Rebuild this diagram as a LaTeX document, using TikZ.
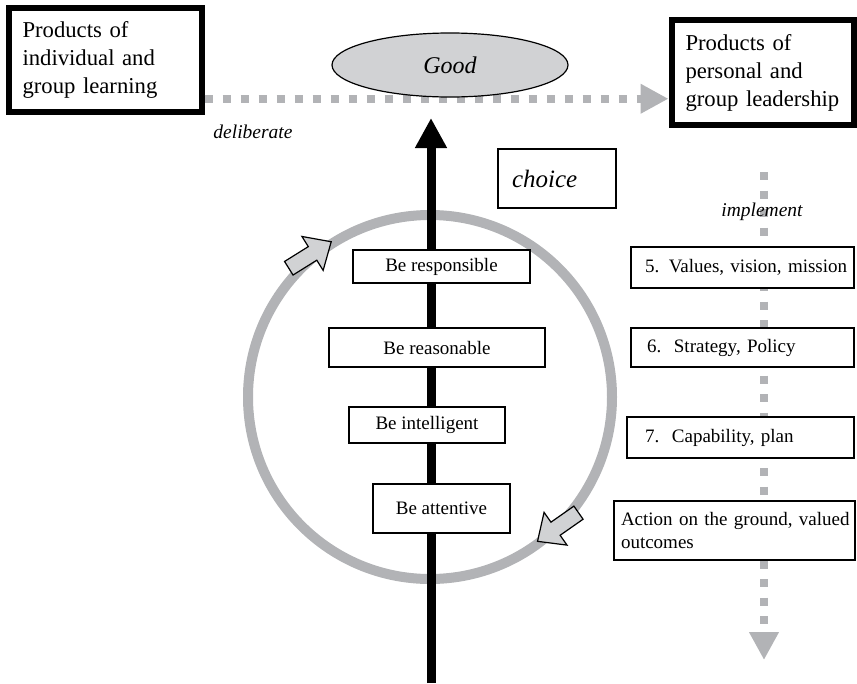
\documentclass[tikz,border=0pt]{standalone}
\usepackage{fontspec}
\setmainfont{Liberation Serif}
\usetikzlibrary{shapes.geometric,arrows.meta,calc}
\definecolor{ringgray}{RGB}{178,179,182}
\definecolor{lightfill}{RGB}{209,210,212}
\newcommand{\bigtext}{\fontsize{22.7}{28}\selectfont}
\newcommand{\boxtext}{\fontsize{19}{23.5}\selectfont}
\newcommand{\smalltext}{\fontsize{19.5}{23}\selectfont\itshape}
\tikzset{
  bigbox/.style={draw, line width=6pt, align=left, inner ysep=0pt},
  bebox/.style={draw, line width=1.2pt, fill=white, inner sep=0pt, font=\boxtext},
  rbox/.style={draw, line width=1.2pt, fill=white, inner ysep=0pt, align=left, font=\boxtext},
  graydash/.style={draw=ringgray, line width=8pt, dash pattern=on 8pt off 10pt},
  graytip/.style={-{Triangle[width=28pt,length=28pt,fill=ringgray,color=ringgray]}},
  blockarrow/.style={draw, line width=1.2pt, fill=lightfill, line join=miter}
}
\begin{document}
\begin{tikzpicture}[x=1pt,y=-1pt]
\useasboundingbox (0,0) rectangle (857,683);
% ring
\node[circle, draw=ringgray, line width=10pt, minimum size=364pt, inner sep=0pt] (ring) at (430,397) {};
% black arrow
\coordinate (ab) at (431,683);
\coordinate (at) at (431,118);
\draw[line width=9pt, -{Triangle[width=30pt,length=30pt]}] (ab) -- (at);
% top boxes
\node[bigbox, minimum width=193pt, minimum height=103.5pt, text width=165pt, inner xsep=14pt, font=\bigtext] (tl) at (105,60) {Products of\\individual and\\group learning};
\node[bigbox, minimum width=182pt, minimum height=105pt, text width=154pt, inner xsep=14pt, font=\bigtext] (tr) at (762.5,72.5) {Products of\\personal and\\group leadership};
% horizontal dotted connector
\coordinate (h1) at ($(tl.south east)+(0,-16)$);
\draw[graydash, graytip] (h1) -- (h1 -| tr.west);
% Good ellipse
\node[ellipse, draw, line width=1.2pt, fill=lightfill, minimum width=236pt, minimum height=64pt, font=\fontsize{24}{28}\selectfont\itshape] (good) at (450,65) {Good};
\node[font=\smalltext] (delib) at (253,132) {deliberate};
% choice
\node[draw, line width=1.2pt, minimum width=118pt, minimum height=59pt, inner xsep=14pt, text width=90pt, align=left, font=\fontsize{25}{30}\selectfont\itshape] (choice) at (557,178.5) {choice};
% Be boxes
\node[bebox, minimum width=177pt, minimum height=33pt] (b4) at (441.5,266.5) {Be responsible};
\node[bebox, minimum width=216pt, minimum height=39pt] (b3) at (437,347.5) {Be reasonable};
\node[bebox, minimum width=156pt, minimum height=36pt] (b2) at (427,425) {Be intelligent};
\node[bebox, minimum width=137pt, minimum height=49pt] (b1) at (441.5,508.5) {Be attentive};
% block arrows on ring
\draw[blockarrow, shift={(310,255)}, rotate=32] (-25,-8) -- (3,-8) -- (3,-20) -- (25,0) -- (3,20) -- (3,8) -- (-25,8) -- cycle;
\draw[blockarrow, shift={(558,527)}, rotate=215] (-25,-8) -- (3,-8) -- (3,-20) -- (25,0) -- (3,20) -- (3,8) -- (-25,8) -- cycle;
% vertical dotted connector
\coordinate (v1) at (764,172);
\coordinate (v2) at (764,660);
\draw[graydash, dash pattern=on 8pt off 10.5pt, graytip] (v1) -- (v2);
\node[font=\smalltext] (impl) at (762,212) {implement};
% right boxes
\node[rbox, minimum width=223pt, minimum height=41pt, inner xsep=14pt, text width=195pt] (r5) at (742.5,267.5) {\mbox{5. Values, vision, mission}};
\node[rbox, minimum width=223pt, minimum height=39pt, inner xsep=16pt, text width=191pt] (r6) at (742.5,347.5) {\mbox{6.\ \ Strategy, Policy}};
\node[rbox, minimum width=227pt, minimum height=41pt, inner xsep=18pt, text width=191pt] (r7) at (740.5,437.5) {\mbox{7.\ \ Capability, plan}};
\node[rbox, minimum width=241pt, minimum height=59pt, inner xsep=7pt, text width=227pt] (r8) at (734.5,530.5) {\mbox{Action on the ground, valued}\\outcomes};
\end{tikzpicture}
\end{document}
